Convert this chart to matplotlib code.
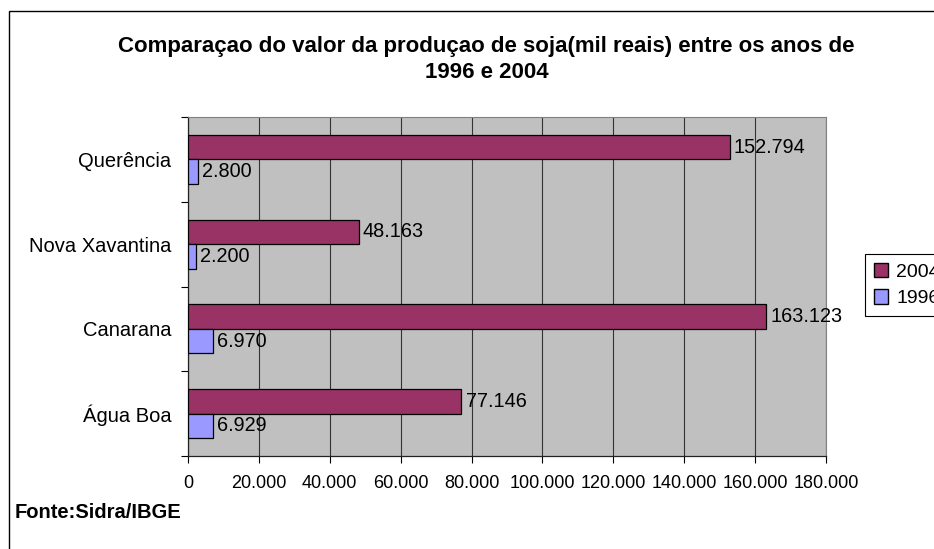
import matplotlib

matplotlib.use("Agg")
import matplotlib.pyplot as plt
from matplotlib.patches import Patch, Rectangle
from matplotlib.ticker import FuncFormatter, FixedLocator

plt.rcParams["font.family"] = ["Liberation Sans", "DejaVu Sans"]

# data (bottom to top, as drawn)
municipios = ["Água Boa", "Canarana", "Nova Xavantina", "Querência"]
valores_2004 = [77146, 163123, 48163, 152794]
valores_1996 = [6929, 6970, 2200, 2800]
x_ticks = list(range(0, 180001, 20000))

COR_2004 = "#993366"
COR_1996 = "#9999FF"
FUNDO = "#C0C0C0"


def milhar(v, _pos=None):
    # thousands with a dot, as in the original
    return f"{int(v):,}".replace(",", ".")


W, H = 934, 549
fig = plt.figure(figsize=(W / 100, H / 100), dpi=100)
ax = fig.add_axes([188 / W, 1 - 456 / H, (826 - 188) / W, (456 - 117) / H])
ax.set_facecolor(FUNDO)

y = list(range(len(municipios)))
h = 0.29
ax.barh([i + h / 2 for i in y], valores_2004, height=h, color=COR_2004,
        edgecolor="black", linewidth=0.9, zorder=3, label="2004")
ax.barh([i - h / 2 for i in y], valores_1996, height=h, color=COR_1996,
        edgecolor="black", linewidth=0.9, zorder=3, label="1996")

for i, v in zip(y, valores_2004):
    ax.annotate(milhar(v), (v, i + h / 2), xytext=(3, 0), textcoords="offset points",
                va="center", ha="left", fontsize=14.3)
for i, v in zip(y, valores_1996):
    ax.annotate(milhar(v), (v, i - h / 2), xytext=(3, 0), textcoords="offset points",
                va="center", ha="left", fontsize=14.3)

ax.set_xlim(0, 180000)
ax.set_ylim(-0.5, len(municipios) - 0.5)
ax.xaxis.set_major_locator(FixedLocator(x_ticks))
ax.xaxis.set_major_formatter(FuncFormatter(milhar))
ax.grid(axis="x", color="#333333", linewidth=0.8, zorder=1)

# category labels in the middle, tick marks at the boundaries
ax.set_yticks(y)
ax.set_yticklabels(municipios)
ax.set_yticks([i - 0.5 for i in range(len(municipios) + 1)], minor=True)
ax.tick_params(axis="y", which="major", length=0, pad=12, labelsize=14.5)
ax.tick_params(axis="y", which="minor", length=5, width=0.8, direction="out")
ax.tick_params(axis="x", length=5, width=0.8, direction="out", pad=9, labelsize=13)

for s in ("top", "right"):
    ax.spines[s].set_color("#808080")
    ax.spines[s].set_linewidth(0.8)
for s in ("left", "bottom"):
    ax.spines[s].set_color("#222222")
    ax.spines[s].set_linewidth(0.9)

fig.text(486 / W, 1 - 47 / H,
         "Comparaçao do valor da produçao de soja(mil reais) entre os anos de",
         ha="center", va="center", fontsize=16, fontweight="bold")
fig.text(487 / W, 1 - 73 / H, "1996 e 2004",
         ha="center", va="center", fontsize=16, fontweight="bold")
fig.text(15 / W, 1 - 513 / H, "Fonte:Sidra/IBGE",
         ha="left", va="center", fontsize=14.5, fontweight="bold")

handles = [Patch(facecolor=COR_2004, edgecolor="black", label="2004"),
           Patch(facecolor=COR_1996, edgecolor="black", label="1996")]
leg = fig.legend(handles=handles, loc="upper left",
                 bbox_to_anchor=(865 / W, 1 - 254 / H), bbox_transform=fig.transFigure,
                 borderaxespad=0, fontsize=14, handlelength=0.75, handleheight=0.75,
                 handletextpad=0.4, labelspacing=0.45, borderpad=0.45,
                 fancybox=False, framealpha=1, edgecolor="black")
leg.get_frame().set_linewidth(0.8)

# outer chart border (right and bottom edges fall outside the picture)
fig.patches.append(Rectangle((9 / W, -0.1), 1.2, 1 - 11 / H + 0.1,
                             transform=fig.transFigure, fill=False,
                             edgecolor="black", linewidth=1.0))

fig.savefig("out.png", dpi=100)
